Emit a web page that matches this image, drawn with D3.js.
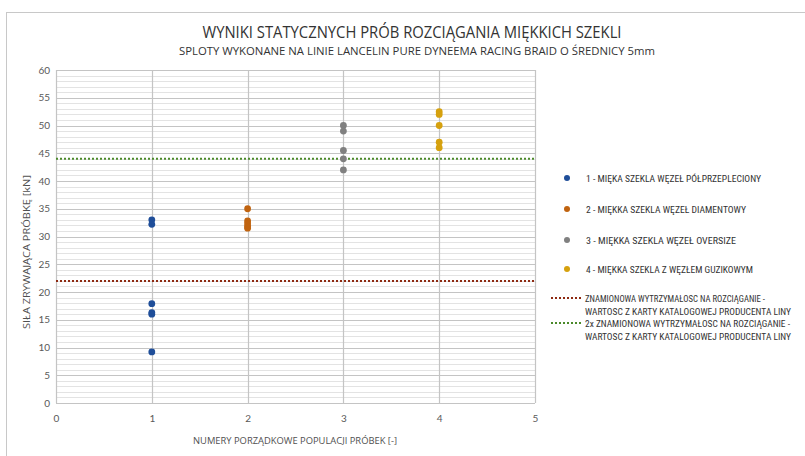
<!DOCTYPE html>
<html><head><meta charset="utf-8">
<script src="https://cdn.jsdelivr.net/npm/d3@7"></script>
<style>body{margin:0;background:#fff;} svg{display:block;font-family:"Open Sans","Liberation Sans",sans-serif;}</style>
</head><body>
<script>
const titleText = "WYNIKI STATYCZNYCH PRÓB ROZCIĄGANIA MIĘKKICH SZEKLI";
const subtitleText = "SPLOTY WYKONANE NA LINIE LANCELIN PURE DYNEEMA RACING BRAID O ŚREDNICY 5mm";
const yTitle = "SIŁA ZRYWAJĄCA PRÓBKĘ [kN]";
const xTitle = "NUMERY PORZĄDKOWE POPULACJI PRÓBEK [-]";
const seriesNames = ["1 - MIĘKA SZEKLA WĘZEŁ PÓŁPRZEPLECIONY","2 - MIĘKKA SZEKLA WĘZEŁ DIAMENTOWY","3 - MIĘKKA SZEKLA WĘZEŁ OVERSIZE","4 - MIĘKKA SZEKLA Z WĘZŁEM GUZIKOWYM"];
const seriesX = [1,2,3,4];
const series1 = [33, 32.2, 17.9, 16.3, 16.0, 9.2];
const series2 = [35, 32.8, 32.3, 31.8, 31.5];
const series3 = [50, 49, 45.5, 44, 42];
const series4 = [52.5, 52, 50, 47, 46];
const seriesColors = ["#1f4e99","#c0630f","#808080","#d6a10e"];
const refValues = [22, 44];
const refNames = [["ZNAMIONOWA WYTRZYMAŁOSC NA ROZCIĄGANIE -","WARTOSC Z KARTY KATALOGOWEJ PRODUCENTA LINY"],["2x ZNAMIONOWA WYTRZYMAŁOSC NA ROZCIĄGANIE -","WARTOSC Z KARTY KATALOGOWEJ PRODUCENTA LINY"]];
const refColors = ["#8e2a12","#4b8a2a"];
const xTicks = [0,1,2,3,4,5];
const yTicks = [0,5,10,15,20,25,30,35,40,45,50,55,60];

const W=805,H=456;
const svg=d3.select("body").append("svg").attr("width",W).attr("height",H);
svg.append("rect").attr("x",6.5).attr("y",12.5).attr("width",810).attr("height",460).attr("fill","#fff").attr("stroke","#c8c8c8");

const x=d3.scaleLinear().domain([0,5]).range([56,535]);
const y=d3.scaleLinear().domain([0,60]).range([403,70]);

const g=svg.append("g");
g.selectAll("line.minor").data(d3.range(0,61,1).filter(v=>v%5)).join("line")
 .attr("x1",x(0)).attr("x2",x(5)).attr("y1",d=>Math.round(y(d))+0.5).attr("y2",d=>Math.round(y(d))+0.5)
 .attr("stroke","#e3e3e3").attr("stroke-width",1);
g.selectAll("line.major").data(yTicks).join("line")
 .attr("x1",x(0)).attr("x2",x(5)).attr("y1",d=>Math.round(y(d))+0.5).attr("y2",d=>Math.round(y(d))+0.5)
 .attr("stroke","#c4c4c4").attr("stroke-width",1.2);
g.selectAll("line.vx").data(xTicks).join("line")
 .attr("y1",y(0)).attr("y2",y(60)).attr("x1",d=>Math.round(x(d))+0.5).attr("x2",d=>Math.round(x(d))+0.5)
 .attr("stroke","#c4c4c4").attr("stroke-width",1.2);

const ya=svg.append("g").attr("transform",`translate(${x(0)-4},0)`).call(d3.axisLeft(y).tickValues(yTicks).tickSize(0).tickPadding(2));
ya.select(".domain").remove();
ya.selectAll("text").attr("fill","#595959").style("font-size","10px").style("font-family","Lato, 'Liberation Sans', sans-serif");
const xa=svg.append("g").attr("transform",`translate(0,${y(0)+8})`).call(d3.axisBottom(x).tickValues(xTicks).tickFormat(d3.format("d")).tickSize(0).tickPadding(4));
xa.select(".domain").remove();
xa.selectAll("text").attr("fill","#595959").style("font-size","10px").style("font-family","Lato, 'Liberation Sans', sans-serif");

refValues.forEach((v,i)=>{
 svg.append("line").attr("x1",x(0)).attr("x2",x(5)).attr("y1",y(v)).attr("y2",y(v))
  .attr("stroke",refColors[i]).attr("stroke-width",2).attr("stroke-dasharray","2,2");
});

const allSeries=[series1,series2,series3,series4];
allSeries.forEach((s,i)=>{
 svg.append("g").selectAll("circle").data(s).join("circle")
  .attr("cx",x(seriesX[i])).attr("cy",d=>y(d)).attr("r",3.4).attr("fill",seriesColors[i]);
});

svg.append("text").attr("x",412).attr("y",38).attr("text-anchor","middle").attr("fill","#333")
 .style("font-size","16px").attr("textLength",419).attr("lengthAdjust","spacingAndGlyphs").text(titleText);
svg.append("text").attr("x",417).attr("y",55).attr("text-anchor","middle").attr("fill","#333")
 .style("font-size","10.5px").attr("textLength",476).attr("lengthAdjust","spacingAndGlyphs").text(subtitleText);
svg.append("text").attr("transform",`translate(30,252) rotate(-90)`).attr("text-anchor","middle").attr("fill","#505050")
 .style("font-size","9.5px").attr("textLength",154).attr("lengthAdjust","spacingAndGlyphs").text(yTitle);
svg.append("text").attr("x",295).attr("y",444).attr("text-anchor","middle").attr("fill","#505050")
 .style("font-size","9.5px").attr("textLength",204).attr("lengthAdjust","spacingAndGlyphs").text(xTitle);

const narrow = "'Liberation Sans Narrow','Roboto Condensed','Open Sans',sans-serif";
const legY=[178,209,240,269];
const legW=[175,160,150,167];
seriesNames.forEach((n,i)=>{
 svg.append("circle").attr("cx",567).attr("cy",legY[i]).attr("r",3).attr("fill",seriesColors[i]);
 svg.append("text").attr("x",586).attr("y",legY[i]+3.5).attr("fill","#333").style("font-size","9px").style("font-family",narrow)
  .attr("textLength",legW[i]).attr("lengthAdjust","spacingAndGlyphs").text(n);
});
const refLegY=[298,323];
const refW=[[180,206],[205,206]];
refNames.forEach((lines,i)=>{
 svg.append("line").attr("x1",551).attr("x2",581).attr("y1",refLegY[i]).attr("y2",refLegY[i])
  .attr("stroke",refColors[i]).attr("stroke-width",2).attr("stroke-dasharray","2,2");
 lines.forEach((t,j)=>{
  svg.append("text").attr("x",585).attr("y",refLegY[i]+3.5+j*13).attr("fill","#333").style("font-size","9px").style("font-family",narrow)
   .attr("textLength",refW[i][j]).attr("lengthAdjust","spacingAndGlyphs").text(t);
 });
});
</script>
</body></html>
